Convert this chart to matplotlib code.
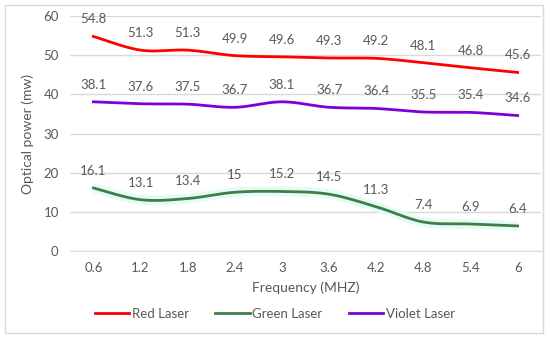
import numpy as np
import matplotlib.pyplot as plt
from matplotlib.patches import Rectangle

plt.rcParams['font.family'] = ['Lato', 'DejaVu Sans']

frequency = ["0.6", "1.2", "1.8", "2.4", "3", "3.6", "4.2", "4.8", "5.4", "6"]
red_laser = [54.8, 51.3, 51.3, 49.9, 49.6, 49.3, 49.2, 48.1, 46.8, 45.6]
green_laser = [16.1, 13.1, 13.4, 15, 15.2, 14.5, 11.3, 7.4, 6.9, 6.4]
violet_laser = [38.1, 37.6, 37.5, 36.7, 38.1, 36.7, 36.4, 35.5, 35.4, 34.6]

TEXT = '#595959'


def smooth(y, n=30):
    """Excel-like smoothed line via Bezier segments (Catmull-Rom)."""
    x = np.arange(len(y), dtype=float)
    y = np.asarray(y, dtype=float)
    pts = np.column_stack([x, y])
    ext = np.vstack([pts[0], pts, pts[-1]])
    out = []
    t = np.linspace(0, 1, n)[:, None]
    for i in range(len(pts) - 1):
        p0, p3 = ext[i + 1], ext[i + 2]
        p1 = p0 + (ext[i + 2] - ext[i]) / 6
        p2 = p3 - (ext[i + 3] - ext[i + 1]) / 6
        seg = ((1 - t) ** 3) * p0 + 3 * ((1 - t) ** 2) * t * p1 \
            + 3 * (1 - t) * t ** 2 * p2 + t ** 3 * p3
        out.append(seg if i == 0 else seg[1:])
    out = np.vstack(out)
    return out[:, 0], out[:, 1]


fig = plt.figure(figsize=(5.5, 3.39), dpi=100)
ax = fig.add_axes([0.127, 0.2596, 0.857, 0.693])

series = [
    ("Red Laser", red_laser, '#ff0000'),
    ("Green Laser", green_laser, '#3f7f47'),
    ("Violet Laser", violet_laser, '#7f00d6'),
]

for name, vals, color in series:
    sx, sy = smooth(vals)
    if name == "Green Laser":
        ax.plot(sx, sy, color='#e6faf6', lw=7, zorder=2, solid_capstyle='butt')
    ax.plot(sx, sy, color=color, lw=2, label=name, zorder=3)
    for i, v in enumerate(vals):
        ax.annotate(f"{v:g}", (i, v), xytext=(0, 8), textcoords='offset points',
                    ha='center', va='bottom', fontsize=9.5, color=TEXT)

ax.set_xlim(-0.5, len(frequency) - 0.5)
ax.set_ylim(0, 60)
ax.set_yticks(range(0, 61, 10))
ax.set_xticks(range(len(frequency)))
ax.set_xticklabels(frequency)
ax.grid(axis='y', color='#d9d9d9', lw=1)
ax.set_axisbelow(True)
for s in ax.spines.values():
    s.set_visible(False)
ax.spines['bottom'].set_visible(True)
ax.spines['bottom'].set_color('#d9d9d9')
ax.tick_params(length=0, labelsize=9.5, labelcolor=TEXT, pad=8)
ax.set_xlabel("Frequency (MHZ)", fontsize=10, color=TEXT, labelpad=5)
ax.set_ylabel("Optical power (mw)", fontsize=10, color=TEXT, labelpad=7)

fig.legend(loc='center', bbox_to_anchor=(0.5, 0.074), ncol=3, frameon=False,
           fontsize=9.5, labelcolor=TEXT, handlelength=2.6, handletextpad=0.2,
           columnspacing=2.0)

fig.patches.append(Rectangle((5 / 550, 6 / 339), 538 / 550, 328 / 339,
                             transform=fig.transFigure, fill=False,
                             edgecolor='#d9d9d9', lw=1))

fig.savefig('out.png', dpi=100)
